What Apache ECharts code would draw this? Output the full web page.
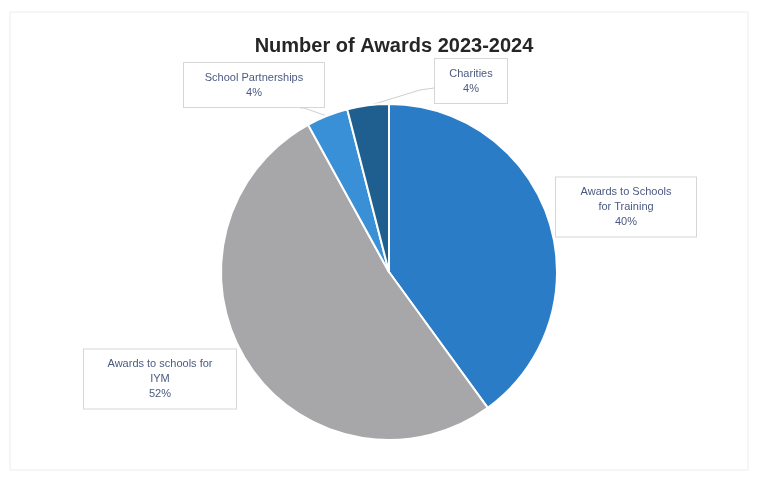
<!DOCTYPE html>
<html><head><meta charset="utf-8">
<script src="https://cdn.jsdelivr.net/npm/echarts@6/dist/echarts.min.js"></script>
<style>html,body{margin:0;padding:0;background:#fff}#c{width:759px;height:481px}</style>
</head><body><div id="c"></div>
<script>
const categories = ['Awards to Schools\nfor Training', 'Awards to schools for\nIYM', 'School Partnerships', 'Charities'];
const values = [40, 52, 4, 4];
const colors = ['#2b7cc6', '#a7a7a9', '#3a90d6', '#1f5f90'];
const labelPos = [[626, 207], [160, 379], [254, 85], [471, 81]];
const labelWidths = [132, 144, 132, 64];
const leaderLines = { 2: [[327, 116], [304, 108], [300, 108]], 3: [[371, 105], [420, 90], [434, 88]] };

const chart = echarts.init(document.getElementById('c'));
chart.setOption({
  backgroundColor: '#fff',
  animation: false,
  title: {
    text: 'Number of Awards 2023-2024',
    left: 389, top: 31, textAlign: 'center',
    textStyle: { fontFamily: 'Liberation Sans', fontSize: 20, fontWeight: 'bold', color: '#262626' }
  },
  graphic: [{ type: 'rect', shape: { x: 10, y: 12, width: 738, height: 458 }, style: { fill: 'none', stroke: '#ececec', lineWidth: 1 } }],
  series: [{
    type: 'pie',
    center: [389, 272],
    radius: 168,
    startAngle: 90,
    clockwise: true,
    itemStyle: { borderColor: '#fff', borderWidth: 2 },
    data: categories.map((n, i) => ({
      name: n, value: values[i], itemStyle: { color: colors[i] },
      label: { width: labelWidths[i] },
      labelLine: { show: i >= 2 }
    })),
    label: {
      show: true,
      formatter: p => p.name + '\n' + p.percent.toFixed(0) + '%',
      fontFamily: 'Liberation Sans',
      fontSize: 11, lineHeight: 15, color: '#4b5a82',
      backgroundColor: '#fff', borderColor: '#d6d6d6', borderWidth: 1,
      padding: [7, 4, 7, 4], align: 'center', overflow: 'break'
    },
    labelLine: { lineStyle: { color: '#cfcfcf', width: 1 }, length: 10, length2: 10 },
    labelLayout: p => {
      const o = { x: labelPos[p.dataIndex][0], y: labelPos[p.dataIndex][1], align: 'center', verticalAlign: 'middle' };
      if (leaderLines[p.dataIndex]) o.labelLinePoints = leaderLines[p.dataIndex];
      return o;
    }
  }]
});
</script></body></html>
